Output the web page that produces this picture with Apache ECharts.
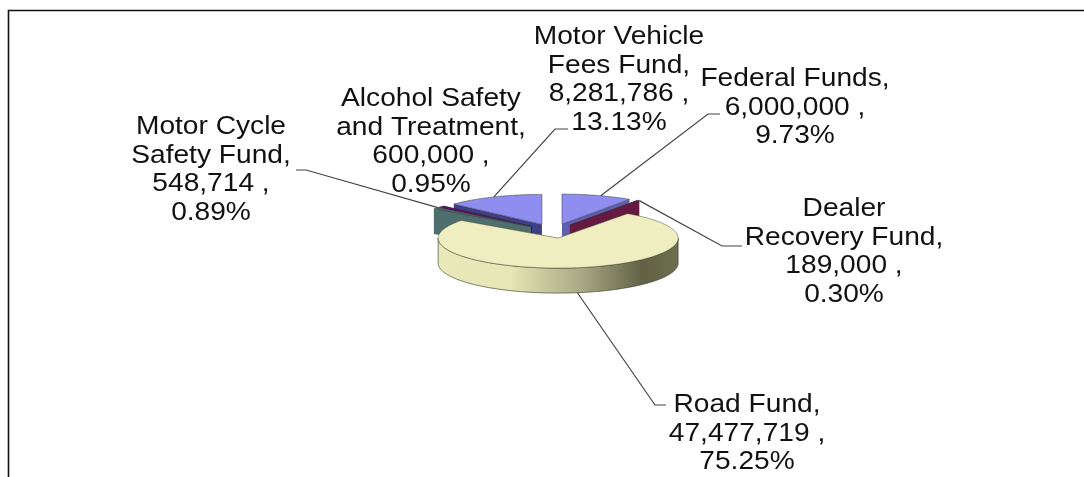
<!DOCTYPE html>
<html>
<head>
<meta charset="utf-8">
<style>
  html, body { margin: 0; padding: 0; background: #fff; }
  #pie3d { width: 1084px; height: 477px; }
</style>
<script src="https://cdn.jsdelivr.net/npm/echarts@6/dist/echarts.min.js"></script>
</head>
<body>
<div id="pie3d"></div>
<script>
// slices run clockwise from 12 o'clock
var names = ['Federal Funds', 'Dealer Recovery Fund', 'Road Fund', 'Motor Cycle Safety Fund', 'Alcohol Safety and Treatment', 'Motor Vehicle Fees Fund'];
var values = [6000000, 189000, 47477719, 548714, 600000, 8281786];
var percents = ['9.73%', '0.30%', '75.25%', '0.89%', '0.95%', '13.13%'];
var labelLines = [
  ['Federal Funds,', '6,000,000 ,', '9.73%'],
  ['Dealer', 'Recovery Fund,', '189,000 ,', '0.30%'],
  ['Road Fund,', '47,477,719 ,', '75.25%'],
  ['Motor Cycle', 'Safety Fund,', '548,714 ,', '0.89%'],
  ['Alcohol Safety', 'and Treatment,', '600,000 ,', '0.95%'],
  ['Motor Vehicle', 'Fees Fund,', '8,281,786 ,', '13.13%']
];

// layout of the tilted pie
var cx = 553.5, cy = 231, rx = 120, ry = 30, depth = 25, explode = 0.24;
var drawOrder = [5, 4, 3, 0, 1, 2];
var topColors = ['#8f8def', '#7a1f4f', '#eeeec0', '#4f6f6f', '#6a0a6a', '#8f8def'];
var faceColors = ['#5f5fae', '#661a42', '#b0b08a', '#4f6f6f', '#4a0a4a', '#3f3f85'];
var labelCenter = [[795, 65], [844, 195], [747, 391], [211, 113], [431, 85], [619, 23]];
// leader lines: label side, elbow (alcohol has none in the source)
var leaderStart = [[720, 114], [742, 246], [666, 405], [296, 170], null, [568, 129]];
var leaderElbow = [[708, 114], [722, 246], [655, 405], [306, 170], null, [555, 129]];
var leaderEndAt = [0.55, 1, 0.5, 1, 0.5, 0.5];

var total = values.reduce(function (a, b) { return a + b; }, 0);
var starts = [];
values.reduce(function (acc, v, i) { starts[i] = acc; return acc + v / total * Math.PI * 2; }, 0);

function ell(c, a, r) {
  return [c[0] + Math.sin(a) * rx * r, c[1] - Math.cos(a) * ry * r];
}
function down(p) { return [p[0], p[1] + depth]; }
function arcPts(c, a0, a1) {
  var n = Math.max(2, Math.ceil((a1 - a0) / 0.02)), out = [];
  for (var i = 0; i <= n; i++) out.push(ell(c, a0 + (a1 - a0) * i / n, 1));
  return out;
}
function sliceCenter(i) {
  var a0 = starts[i], a1 = a0 + values[i] / total * Math.PI * 2;
  return ell([cx, cy], (a0 + a1) / 2, explode);
}
function poly(points, fill, stroke) {
  return {
    type: 'polygon',
    shape: { points: points },
    style: { fill: fill, stroke: stroke || null, lineWidth: stroke ? 0.8 : 0 }
  };
}

function renderSlice(params, api) {
  var i = api.value(0);
  var a0 = starts[i], a1 = a0 + api.value(1) / total * Math.PI * 2;
  var c = sliceCenter(i);
  var kids = [];
  var faceA = [c, ell(c, a0, 1), down(ell(c, a0, 1)), down(c)];
  var faceB = [c, ell(c, a1, 1), down(ell(c, a1, 1)), down(c)];
  kids.push(poly(faceA, faceColors[i]));
  kids.push(poly(faceB, faceColors[i]));
  // outer wall, only the front half shows
  var w0 = Math.max(a0, Math.PI / 2), w1 = Math.min(a1, Math.PI * 1.5);
  if (w1 > w0) {
    var wall = arcPts(c, w0, w1);
    var fill = i === 2 ? new echarts.graphic.LinearGradient(1, 0, 0, 0, [
      { offset: 0, color: '#6e6e50' },
      { offset: 0.15, color: '#616145' },
      { offset: 0.4, color: '#a8a884' },
      { offset: 0.7, color: '#e6e6b6' },
      { offset: 1, color: '#e8e8b8' }
    ]) : faceColors[i];
    kids.push(poly(wall.concat(wall.map(down).reverse()), fill, 'rgba(60,60,40,0.8)'));
  }
  kids.push(poly([c].concat(arcPts(c, a0, a1)), topColors[i], i === 2 ? 'rgba(50,50,30,0.55)' : 'rgba(50,50,60,0.6)'));
  return { type: 'group', children: kids };
}

function renderLabel(params, api) {
  var i = api.value(0);
  var a0 = starts[i], a1 = a0 + values[i] / total * Math.PI * 2;
  var c = sliceCenter(i);
  var kids = [{
    type: 'text',
    x: labelCenter[i][0],
    y: labelCenter[i][1],
    scaleX: 1.125,
    style: {
      text: labelLines[i].join('\n'),
      fill: '#111',
      font: '25px "Liberation Sans", Arial, sans-serif',
      lineHeight: 28.5,
      align: 'center',
      verticalAlign: 'top'
    }
  }];
  if (leaderStart[i]) {
    var end = ell(c, a0 + (a1 - a0) * leaderEndAt[i], 1);
    if (i === 2) end = down(end);
    kids.push({
      type: 'polyline',
      shape: { points: [leaderStart[i], leaderElbow[i], end] },
      style: { fill: null, stroke: '#444', lineWidth: 1.2 }
    });
  }
  return { type: 'group', children: kids };
}

var chart = echarts.init(document.getElementById('pie3d'));
chart.setOption({
  animation: false,
  graphic: [{
    type: 'polyline',
    shape: { points: [[8.5, 480], [8.5, 10.5], [1084, 10.5]] },
    style: { fill: null, stroke: '#111', lineWidth: 1.6 },
    silent: true,
    z: -1
  }],
  series: [
    {
      type: 'custom',
      coordinateSystem: 'none',
      renderItem: renderSlice,
      data: drawOrder.map(function (i) { return [i, values[i]]; }),
      z: 2
    },
    {
      type: 'custom',
      coordinateSystem: 'none',
      renderItem: renderLabel,
      data: names.map(function (n, i) { return [i]; }),
      z: 3
    }
  ]
});
</script>
</body>
</html>
